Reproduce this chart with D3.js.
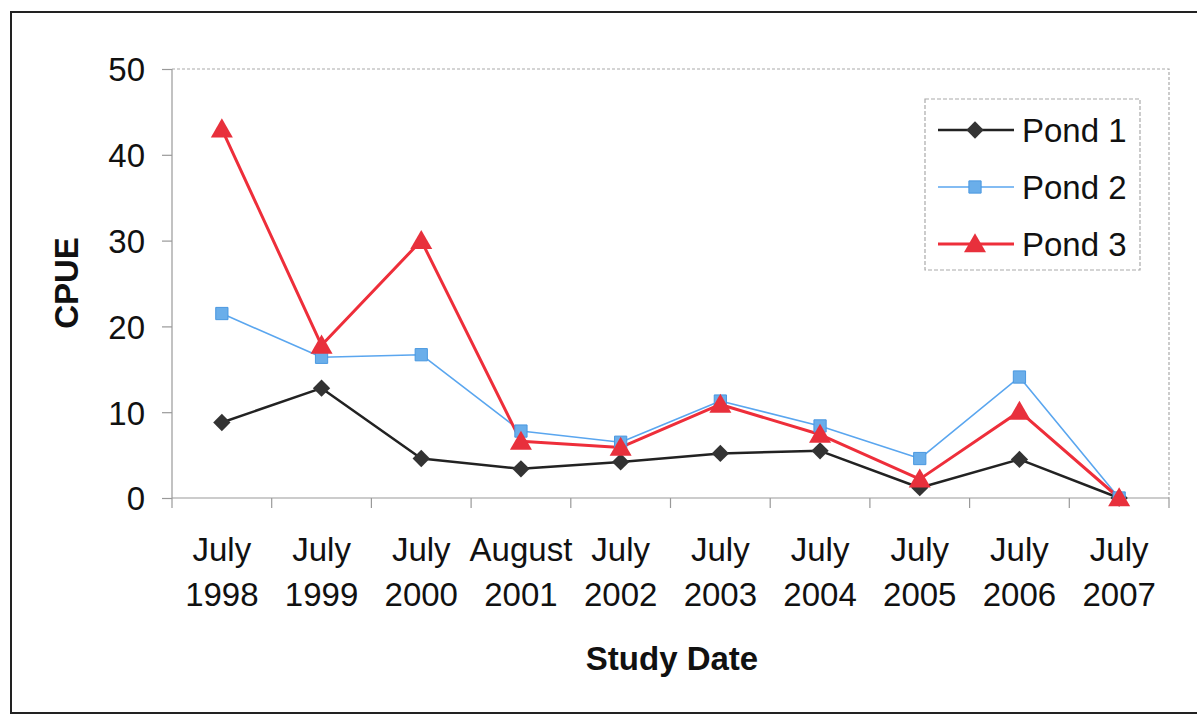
<!DOCTYPE html>
<html>
<head>
<meta charset="utf-8">
<script src="https://cdn.jsdelivr.net/npm/d3@7"></script>
<style>
  html, body { margin: 0; padding: 0; background: #fff; }
  svg { display: block; }
  text { font-family: "Liberation Sans", Arial, sans-serif; fill: #111; }
</style>
</head>
<body>
<svg id="chart" width="1197" height="715"></svg>
<script>
const months = ["July", "July", "July", "August", "July", "July", "July", "July", "July", "July"];
const years = ["1998", "1999", "2000", "2001", "2002", "2003", "2004", "2005", "2006", "2007"];
const pond1 = [8.8, 12.8, 4.6, 3.4, 4.2, 5.2, 5.5, 1.2, 4.5, 0];
const pond2 = [21.5, 16.4, 16.7, 7.8, 6.5, 11.3, 8.4, 4.6, 14.1, 0];
const pond3 = [43, 17.8, 30, 6.6, 5.9, 10.9, 7.4, 2.2, 10.1, 0];
const yTicks = [0, 10, 20, 30, 40, 50];
const seriesNames = ["Pond 1", "Pond 2", "Pond 3"];

const svg = d3.select("#chart");

// outer frame
svg.append("rect").attr("x", 11).attr("y", 12).attr("width", 1200).attr("height", 701)
  .attr("fill", "none").attr("stroke", "#222").attr("stroke-width", 2);

const pL = 172, pR = 1169, pT = 69, pB = 498;
const x = d3.scaleBand().domain(years).range([pL, pR]);
const y = d3.scaleLinear().domain([0, 50]).range([pB, pT]);

// plot area border (top & right dotted)
svg.append("path")
  .attr("d", `M${pL},${pT}H${pR}V${pB}`)
  .attr("fill", "none").attr("stroke", "#aaa").attr("stroke-width", 1.2)
  .attr("stroke-dasharray", "3,2");

// y axis
const yAxis = svg.append("g").attr("transform", `translate(${pL},0)`)
  .call(d3.axisLeft(y).tickValues(yTicks).tickSize(10).tickPadding(17));
yAxis.select(".domain").attr("stroke", "#999").attr("stroke-width", 1.2)
  .attr("d", `M0,${pT}V${pB + 10}`);
yAxis.selectAll(".tick line").attr("stroke", "#999").attr("stroke-width", 1.2);
yAxis.selectAll(".tick text").style("font-size", "33px").attr("fill", "#111")
  .style("font-family", '"Liberation Sans", Arial, sans-serif').attr("dy", "0.36em");

// x axis
const xAxis = svg.append("g").attr("transform", `translate(0,${pB})`);
xAxis.append("line").attr("x1", pL).attr("x2", pR).attr("y1", 0).attr("y2", 0)
  .attr("stroke", "#999").attr("stroke-width", 1.2);
xAxis.selectAll("line.tk").data(years.slice(1)).enter().append("line")
  .attr("class", "tk")
  .attr("x1", d => x(d)).attr("x2", d => x(d)).attr("y1", 0).attr("y2", 10)
  .attr("stroke", "#999").attr("stroke-width", 1.2);
xAxis.append("line").attr("x1", pR).attr("x2", pR).attr("y1", 0).attr("y2", 10)
  .attr("stroke", "#999").attr("stroke-width", 1.2);

const labels = svg.append("g");
years.forEach((yr, i) => {
  const cx = x(yr) + x.bandwidth() / 2;
  labels.append("text").attr("x", cx).attr("y", 561).attr("text-anchor", "middle")
    .style("font-size", "33px").text(months[i]);
  labels.append("text").attr("x", cx).attr("y", 606).attr("text-anchor", "middle")
    .style("font-size", "33px").text(yr);
});

// axis titles
svg.append("text").attr("x", 672).attr("y", 670).attr("text-anchor", "middle")
  .style("font-size", "33px").style("font-weight", "bold").attr("fill", "#222").text("Study Date");
svg.append("text").attr("transform", "translate(78,283) rotate(-90)").attr("text-anchor", "middle")
  .style("font-size", "33px").style("font-weight", "bold").attr("fill", "#222").text("CPUE");

const cxOf = i => x(years[i]) + x.bandwidth() / 2;
const line = d3.line().x((d, i) => cxOf(i)).y(d => y(d));

const styles = [
  { data: pond1, color: "#222", width: 2.5, sym: d3.symbolSquare, size: 150, fill: "#333", rot: 45, dy: 0, stroke: "none" },
  { data: pond2, color: "#5aa6ef", width: 1.6, sym: d3.symbolSquare, size: 150, fill: "#6aaeea", rot: 0, dy: 0, stroke: "#4a98e0" },
  { data: pond3, color: "#ee2e3a", width: 3, sym: d3.symbolTriangle, size: 210, fill: "#e8303c", rot: 0, dy: 2, stroke: "none" }
];

styles.forEach(s => {
  svg.append("path").datum(s.data).attr("d", line).attr("fill", "none")
    .attr("stroke", s.color).attr("stroke-width", s.width).attr("stroke-linejoin", "round");
});
styles.forEach(s => {
  svg.append("g").selectAll("path").data(s.data).enter().append("path")
    .attr("d", d3.symbol().type(s.sym).size(s.size))
    .attr("transform", (d, i) => `translate(${cxOf(i)},${y(d) + s.dy}) rotate(${s.rot})`)
    .attr("fill", s.fill)
    .attr("stroke", s.stroke).attr("stroke-width", 1);
});

// legend
const lg = svg.append("g");
lg.append("rect").attr("x", 925).attr("y", 99).attr("width", 215).attr("height", 171)
  .attr("fill", "#fff").attr("stroke", "#aaa").attr("stroke-width", 1.2).attr("stroke-dasharray", "4,2");
const legendY = [130, 187, 244];
styles.forEach((s, i) => {
  lg.append("line").attr("x1", 938).attr("x2", 1014).attr("y1", legendY[i]).attr("y2", legendY[i])
    .attr("stroke", s.color).attr("stroke-width", s.width);
  lg.append("path").attr("d", d3.symbol().type(s.sym).size(s.size))
    .attr("transform", `translate(975,${legendY[i] + s.dy}) rotate(${s.rot})`)
    .attr("fill", s.fill).attr("stroke", s.stroke);
  lg.append("text").attr("x", 1022).attr("y", legendY[i] + 12)
    .style("font-size", "33px").text(seriesNames[i]);
});
</script>
</body>
</html>
